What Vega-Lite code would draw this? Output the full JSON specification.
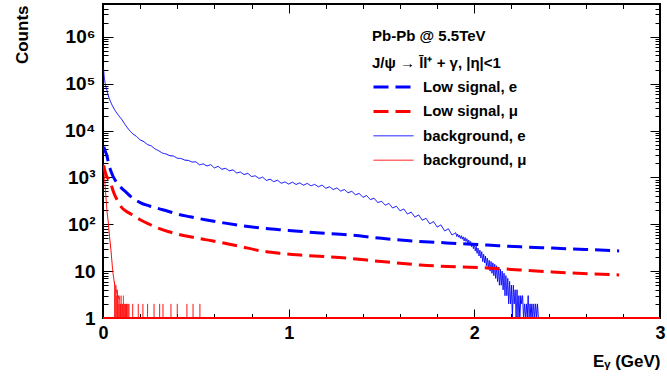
{
  "$schema": "https://vega.github.io/schema/vega-lite/v6.json",
  "width": 557,
  "height": 314,
  "autosize": "none",
  "padding": {"left": 103, "top": 4, "right": 7, "bottom": 59},
  "background": "white",
  "config": {
    "font": "Liberation Sans",
    "view": {"stroke": "black", "strokeWidth": 2},
    "axis": {"domain": false, "grid": false, "tickColor": "black", "tickWidth": 1, "labelColor": "black", "titleColor": "black", "labelFont": "Liberation Sans", "titleFont": "Liberation Sans", "labelFlush": false, "labelOverlap": false},
    "legend": {
      "orient": "none", "legendX": 269, "legendY": 25, "padding": 0,
      "titleFont": "Liberation Sans", "titleFontSize": 15, "titleFontWeight": "bold", "titleColor": "black", "titleLineHeight": 27, "titlePadding": 4, "titleLimit": 400,
      "labelFont": "Liberation Sans", "labelFontSize": 15, "labelFontWeight": "bold", "labelColor": "black", "labelOffset": 8, "labelLimit": 300,
      "symbolType": "stroke", "symbolSize": 1600, "clipHeight": 24, "rowPadding": 0.4
    }
  },
  "datasets": {
    "bge": [
      {"s":"background, e","E":0.002,"v":220000},{"s":"background, e","E":0.006,"v":150000},{"s":"background, e","E":0.01,"v":110000},{"s":"background, e","E":0.015,"v":88000},{"s":"background, e","E":0.02,"v":75000},{"s":"background, e","E":0.027,"v":58000},{"s":"background, e","E":0.034,"v":48000},{"s":"background, e","E":0.04,"v":42000},{"s":"background, e","E":0.047,"v":36000},{"s":"background, e","E":0.054,"v":32000},{"s":"background, e","E":0.062,"v":28000},{"s":"background, e","E":0.07,"v":25000},{"s":"background, e","E":0.08,"v":22000},{"s":"background, e","E":0.09,"v":19500},
      {"s":"background, e","E":0.1,"v":17500},{"s":"background, e","E":0.12,"v":13200},{"s":"background, e","E":0.14,"v":10300},{"s":"background, e","E":0.16,"v":8500},{"s":"background, e","E":0.18,"v":7500},{"s":"background, e","E":0.2,"v":6300},{"s":"background, e","E":0.22,"v":5800},{"s":"background, e","E":0.24,"v":5000},{"s":"background, e","E":0.26,"v":4700},{"s":"background, e","E":0.28,"v":4050},{"s":"background, e","E":0.3,"v":3700},{"s":"background, e","E":0.32,"v":3300},{"s":"background, e","E":0.34,"v":3150},{"s":"background, e","E":0.36,"v":2900},{"s":"background, e","E":0.38,"v":2850},{"s":"background, e","E":0.4,"v":2560},{"s":"background, e","E":0.42,"v":2530},{"s":"background, e","E":0.44,"v":2340},{"s":"background, e","E":0.46,"v":2300},{"s":"background, e","E":0.48,"v":2120},
      {"s":"background, e","E":0.5,"v":2150},{"s":"background, e","E":0.52,"v":1850},{"s":"background, e","E":0.54,"v":1940},{"s":"background, e","E":0.56,"v":1750},{"s":"background, e","E":0.58,"v":1870},{"s":"background, e","E":0.6,"v":1590},{"s":"background, e","E":0.62,"v":1720},{"s":"background, e","E":0.64,"v":1490},{"s":"background, e","E":0.66,"v":1560},{"s":"background, e","E":0.68,"v":1380},{"s":"background, e","E":0.7,"v":1450},{"s":"background, e","E":0.72,"v":1240},{"s":"background, e","E":0.74,"v":1300},{"s":"background, e","E":0.76,"v":1150},{"s":"background, e","E":0.78,"v":1220},{"s":"background, e","E":0.8,"v":1040},{"s":"background, e","E":0.82,"v":1080},{"s":"background, e","E":0.84,"v":950},{"s":"background, e","E":0.86,"v":1010},{"s":"background, e","E":0.88,"v":860},{"s":"background, e","E":0.9,"v":915},{"s":"background, e","E":0.92,"v":810},{"s":"background, e","E":0.94,"v":870},{"s":"background, e","E":0.96,"v":750},{"s":"background, e","E":0.98,"v":800},{"s":"background, e","E":1.0,"v":720},{"s":"background, e","E":1.02,"v":790},{"s":"background, e","E":1.04,"v":705},{"s":"background, e","E":1.06,"v":765},{"s":"background, e","E":1.08,"v":680},{"s":"background, e","E":1.1,"v":745},{"s":"background, e","E":1.12,"v":660},{"s":"background, e","E":1.14,"v":710},{"s":"background, e","E":1.16,"v":630},{"s":"background, e","E":1.18,"v":685},{"s":"background, e","E":1.2,"v":585},{"s":"background, e","E":1.22,"v":630},{"s":"background, e","E":1.24,"v":550},{"s":"background, e","E":1.26,"v":595},{"s":"background, e","E":1.28,"v":510},{"s":"background, e","E":1.3,"v":550},{"s":"background, e","E":1.32,"v":470},{"s":"background, e","E":1.34,"v":505},{"s":"background, e","E":1.36,"v":425},{"s":"background, e","E":1.38,"v":455},{"s":"background, e","E":1.4,"v":375},{"s":"background, e","E":1.42,"v":410},{"s":"background, e","E":1.44,"v":335},{"s":"background, e","E":1.46,"v":360},{"s":"background, e","E":1.48,"v":290},{"s":"background, e","E":1.5,"v":310},{"s":"background, e","E":1.52,"v":255},{"s":"background, e","E":1.54,"v":278},{"s":"background, e","E":1.56,"v":222},{"s":"background, e","E":1.58,"v":243},{"s":"background, e","E":1.6,"v":193},{"s":"background, e","E":1.62,"v":212},{"s":"background, e","E":1.64,"v":165},{"s":"background, e","E":1.66,"v":182},{"s":"background, e","E":1.68,"v":142},{"s":"background, e","E":1.7,"v":158},{"s":"background, e","E":1.72,"v":122},{"s":"background, e","E":1.74,"v":134},{"s":"background, e","E":1.76,"v":102},{"s":"background, e","E":1.78,"v":114},{"s":"background, e","E":1.8,"v":87},{"s":"background, e","E":1.82,"v":97},{"s":"background, e","E":1.84,"v":72},{"s":"background, e","E":1.86,"v":80},{"s":"background, e","E":1.88,"v":59},{"s":"background, e","E":1.9,"v":66},
      {"s":"background, e","E":1.905,"v":55},{"s":"background, e","E":1.91,"v":62},{"s":"background, e","E":1.915,"v":53},{"s":"background, e","E":1.92,"v":58},{"s":"background, e","E":1.925,"v":50},{"s":"background, e","E":1.93,"v":57},{"s":"background, e","E":1.935,"v":48},{"s":"background, e","E":1.94,"v":54},{"s":"background, e","E":1.945,"v":44},{"s":"background, e","E":1.95,"v":52},{"s":"background, e","E":1.955,"v":43},{"s":"background, e","E":1.96,"v":49},{"s":"background, e","E":1.965,"v":39},{"s":"background, e","E":1.97,"v":46},{"s":"background, e","E":1.975,"v":36},{"s":"background, e","E":1.98,"v":43},{"s":"background, e","E":1.985,"v":33},{"s":"background, e","E":1.99,"v":40},{"s":"background, e","E":1.995,"v":30},{"s":"background, e","E":2.0,"v":38},{"s":"background, e","E":2.005,"v":27},{"s":"background, e","E":2.01,"v":34},{"s":"background, e","E":2.015,"v":24},{"s":"background, e","E":2.02,"v":31},{"s":"background, e","E":2.025,"v":21},{"s":"background, e","E":2.03,"v":28},{"s":"background, e","E":2.035,"v":19},{"s":"background, e","E":2.04,"v":26},{"s":"background, e","E":2.045,"v":16},{"s":"background, e","E":2.05,"v":23},{"s":"background, e","E":2.055,"v":15},{"s":"background, e","E":2.06,"v":21},{"s":"background, e","E":2.065,"v":13},{"s":"background, e","E":2.07,"v":19},{"s":"background, e","E":2.075,"v":11},{"s":"background, e","E":2.08,"v":17},{"s":"background, e","E":2.085,"v":10},{"s":"background, e","E":2.09,"v":16},{"s":"background, e","E":2.095,"v":9},{"s":"background, e","E":2.1,"v":15},{"s":"background, e","E":2.105,"v":8},{"s":"background, e","E":2.11,"v":14},{"s":"background, e","E":2.115,"v":7},{"s":"background, e","E":2.12,"v":13},{"s":"background, e","E":2.125,"v":6},{"s":"background, e","E":2.13,"v":12},{"s":"background, e","E":2.135,"v":5},{"s":"background, e","E":2.14,"v":11},{"s":"background, e","E":2.145,"v":5},{"s":"background, e","E":2.15,"v":10},{"s":"background, e","E":2.155,"v":4},{"s":"background, e","E":2.16,"v":9},{"s":"background, e","E":2.165,"v":3},{"s":"background, e","E":2.17,"v":8},{"s":"background, e","E":2.175,"v":3},{"s":"background, e","E":2.18,"v":7},{"s":"background, e","E":2.185,"v":2},{"s":"background, e","E":2.19,"v":6},{"s":"background, e","E":2.195,"v":2},{"s":"background, e","E":2.2,"v":5},{"s":"background, e","E":2.205,"v":1},{"s":"background, e","E":2.21,"v":5},{"s":"background, e","E":2.215,"v":2},{"s":"background, e","E":2.22,"v":4},{"s":"background, e","E":2.225,"v":1},{"s":"background, e","E":2.23,"v":4},{"s":"background, e","E":2.235,"v":1},{"s":"background, e","E":2.24,"v":3},{"s":"background, e","E":2.245,"v":1},{"s":"background, e","E":2.25,"v":3},{"s":"background, e","E":2.255,"v":2},{"s":"background, e","E":2.26,"v":3},{"s":"background, e","E":2.265,"v":1},{"s":"background, e","E":2.27,"v":2},{"s":"background, e","E":2.275,"v":1},{"s":"background, e","E":2.28,"v":2},{"s":"background, e","E":2.285,"v":1},{"s":"background, e","E":2.29,"v":3},{"s":"background, e","E":2.295,"v":1},{"s":"background, e","E":2.3,"v":2},{"s":"background, e","E":2.305,"v":1},{"s":"background, e","E":2.31,"v":2},{"s":"background, e","E":2.315,"v":1},{"s":"background, e","E":2.32,"v":2},{"s":"background, e","E":2.325,"v":1},{"s":"background, e","E":2.33,"v":2},{"s":"background, e","E":2.335,"v":1},{"s":"background, e","E":2.34,"v":2},{"s":"background, e","E":2.345,"v":1},{"s":"background, e","E":2.35,"v":1}
    ],
    "lowe": [
      {"s":"Low signal, e","E":0.004,"v":4500},{"s":"Low signal, e","E":0.01,"v":3800},{"s":"Low signal, e","E":0.02,"v":3000},{"s":"Low signal, e","E":0.03,"v":2000},{"s":"Low signal, e","E":0.04,"v":1450},{"s":"Low signal, e","E":0.05,"v":1150},{"s":"Low signal, e","E":0.06,"v":950},{"s":"Low signal, e","E":0.08,"v":720},{"s":"Low signal, e","E":0.1,"v":590},{"s":"Low signal, e","E":0.125,"v":480},{"s":"Low signal, e","E":0.15,"v":390},{"s":"Low signal, e","E":0.2,"v":290},{"s":"Low signal, e","E":0.25,"v":245},{"s":"Low signal, e","E":0.3,"v":215},{"s":"Low signal, e","E":0.35,"v":190},{"s":"Low signal, e","E":0.4,"v":165},{"s":"Low signal, e","E":0.47,"v":144},{"s":"Low signal, e","E":0.55,"v":125},{"s":"Low signal, e","E":0.65,"v":107},{"s":"Low signal, e","E":0.75,"v":93},{"s":"Low signal, e","E":0.85,"v":83},{"s":"Low signal, e","E":1.0,"v":74},{"s":"Low signal, e","E":1.15,"v":66},{"s":"Low signal, e","E":1.33,"v":59},{"s":"Low signal, e","E":1.5,"v":50},{"s":"Low signal, e","E":1.67,"v":44},{"s":"Low signal, e","E":1.85,"v":40},{"s":"Low signal, e","E":2.07,"v":36},{"s":"Low signal, e","E":2.25,"v":33},{"s":"Low signal, e","E":2.42,"v":31},{"s":"Low signal, e","E":2.6,"v":29},{"s":"Low signal, e","E":2.78,"v":27}
    ],
    "lowm": [
      {"s":"Low signal, μ","E":0.004,"v":1800},{"s":"Low signal, μ","E":0.01,"v":1400},{"s":"Low signal, μ","E":0.02,"v":1050},{"s":"Low signal, μ","E":0.03,"v":900},{"s":"Low signal, μ","E":0.043,"v":700},{"s":"Low signal, μ","E":0.06,"v":450},{"s":"Low signal, μ","E":0.08,"v":310},{"s":"Low signal, μ","E":0.1,"v":230},{"s":"Low signal, μ","E":0.125,"v":190},{"s":"Low signal, μ","E":0.15,"v":165},{"s":"Low signal, μ","E":0.2,"v":125},{"s":"Low signal, μ","E":0.25,"v":100},{"s":"Low signal, μ","E":0.29,"v":85},{"s":"Low signal, μ","E":0.35,"v":70},{"s":"Low signal, μ","E":0.4,"v":62},{"s":"Low signal, μ","E":0.47,"v":54},{"s":"Low signal, μ","E":0.55,"v":47},{"s":"Low signal, μ","E":0.65,"v":40},{"s":"Low signal, μ","E":0.75,"v":33},{"s":"Low signal, μ","E":0.83,"v":28},{"s":"Low signal, μ","E":0.95,"v":24},{"s":"Low signal, μ","E":1.1,"v":21.5},{"s":"Low signal, μ","E":1.31,"v":19},{"s":"Low signal, μ","E":1.5,"v":16},{"s":"Low signal, μ","E":1.71,"v":13.5},{"s":"Low signal, μ","E":2.07,"v":11.7},{"s":"Low signal, μ","E":2.42,"v":9.6},{"s":"Low signal, μ","E":2.78,"v":8.3}
    ],
    "bgm": [
      {"s":"background, μ","E":0.001,"v":1900},{"s":"background, μ","E":0.008,"v":1000},{"s":"background, μ","E":0.015,"v":420},{"s":"background, μ","E":0.022,"v":180},{"s":"background, μ","E":0.027,"v":124},{"s":"background, μ","E":0.035,"v":55},{"s":"background, μ","E":0.043,"v":28},{"s":"background, μ","E":0.05,"v":13},{"s":"background, μ","E":0.054,"v":9},{"s":"background, μ","E":0.06,"v":6},{"s":"background, μ","E":0.07,"v":4},{"s":"background, μ","E":0.08,"v":3},{"s":"background, μ","E":0.09,"v":2.5}
    ],
    "spikes": [
      {"E":0.062,"c":6},{"E":0.066,"c":4},{"E":0.07,"c":5},{"E":0.074,"c":3},{"E":0.078,"c":4},{"E":0.082,"c":3},{"E":0.086,"c":2},{"E":0.09,"c":3},{"E":0.094,"c":2},{"E":0.098,"c":3},{"E":0.102,"c":2},{"E":0.106,"c":2},{"E":0.11,"c":3},{"E":0.114,"c":2},{"E":0.118,"c":2},{"E":0.122,"c":2},{"E":0.126,"c":2},{"E":0.13,"c":2},{"E":0.135,"c":2},{"E":0.14,"c":2},
      {"E":0.16,"c":2},{"E":0.19,"c":2},{"E":0.215,"c":2},{"E":0.24,"c":2},{"E":0.275,"c":2},{"E":0.305,"c":2},{"E":0.323,"c":2},{"E":0.366,"c":2},{"E":0.4,"c":2},{"E":0.452,"c":2},{"E":0.485,"c":2},{"E":0.522,"c":2}
    ]
  },
  "encoding": {
    "color": {"field": "s", "type": "nominal", "scale": {"domain": ["Low signal, e", "Low signal, μ", "background, e", "background, μ"], "range": ["#0000ff", "#ff0000", "#0000ff", "#ff0000"]}, "legend": {"title": ["\u00a0\u00a0\u00a0\u00a0\u00a0\u00a0\u00a0\u00a0\u00a0\u00a0\u00a0\u00a0Pb-Pb @ 5.5TeV", "\u00a0\u00a0\u00a0\u00a0\u00a0\u00a0\u00a0\u00a0\u00a0\u00a0\u00a0\u00a0J/ψ  → l\u0304l\u207a + γ, |η|<1"]}},
    "strokeDash": {"field": "s", "type": "nominal", "scale": {"domain": ["Low signal, e", "Low signal, μ", "background, e", "background, μ"], "range": [[15, 7], [15, 7], [1, 0], [1, 0]]}, "legend": {"title": ["\u00a0\u00a0\u00a0\u00a0\u00a0\u00a0\u00a0\u00a0\u00a0\u00a0\u00a0\u00a0Pb-Pb @ 5.5TeV", "\u00a0\u00a0\u00a0\u00a0\u00a0\u00a0\u00a0\u00a0\u00a0\u00a0\u00a0\u00a0J/ψ  → l\u0304l\u207a + γ, |η|<1"]}},
    "strokeWidth": {"field": "s", "type": "nominal", "scale": {"type": "ordinal", "domain": ["Low signal, e", "Low signal, μ", "background, e", "background, μ"], "range": [3, 3, 1, 1]}, "legend": {"title": ["\u00a0\u00a0\u00a0\u00a0\u00a0\u00a0\u00a0\u00a0\u00a0\u00a0\u00a0\u00a0Pb-Pb @ 5.5TeV", "\u00a0\u00a0\u00a0\u00a0\u00a0\u00a0\u00a0\u00a0\u00a0\u00a0\u00a0\u00a0J/ψ  → l\u0304l\u207a + γ, |η|<1"]}}
  },
  "layer": [
    {
      "data": {"name": "bge"},
      "mark": {"type": "line", "clip": true},
      "encoding": {
        "x": {"field": "E", "type": "quantitative", "scale": {"domain": [0, 3], "nice": false, "zero": false},
          "axis": {"orient": "bottom", "values": [0, 1, 2, 3], "tickSize": -9, "labelPadding": 15, "labelFontSize": 18, "labelFontWeight": "bold",
            "title": "Eᵧ (GeV)", "titleFontSize": 17, "titleFontWeight": "bold", "titleX": 557, "titleY": 48, "titleAlign": "right", "titleBaseline": "alphabetic", "titleAnchor": null}},
        "y": {"field": "v", "type": "quantitative", "scale": {"type": "log", "domain": [1, 5000000], "nice": false},
          "axis": {"orient": "left", "values": [1, 10, 100, 1000, 10000, 100000, 1000000], "tickSize": -10, "labelPadding": 18, "labelFontSize": 19, "labelFontWeight": "bold",
            "labelExpr": "datum.value == 1 ? '1' : datum.value == 10 ? '10' : datum.value == 100 ? '10²' : datum.value == 1000 ? '10³' : datum.value == 10000 ? '10⁴' : datum.value == 100000 ? '10⁵' : '10⁶'",
            "title": "Counts", "titleFontSize": 17, "titleFontWeight": "bold", "titleX": -76, "titleY": 1, "titleAngle": 270, "titleAlign": "right", "titleBaseline": "alphabetic", "titleAnchor": null}}
      }
    },
    {
      "data": {"name": "lowe"},
      "mark": {"type": "line", "clip": true, "interpolate": "monotone"},
      "encoding": {
        "x": {"field": "E", "type": "quantitative", "scale": {"domain": [0, 3], "nice": false, "zero": false},
          "axis": {"orient": "bottom", "values": [0.2, 0.4, 0.6, 0.8, 1.2, 1.4, 1.6, 1.8, 2.2, 2.4, 2.6, 2.8], "tickSize": -4.5, "labels": false, "title": null}},
        "y": {"field": "v", "type": "quantitative", "scale": {"type": "log", "domain": [1, 5000000], "nice": false},
          "axis": {"orient": "left", "values": [2,3,4,5,6,7,8,9,20,30,40,50,60,70,80,90,200,300,400,500,600,700,800,900,2000,3000,4000,5000,6000,7000,8000,9000,20000,30000,40000,50000,60000,70000,80000,90000,200000,300000,400000,500000,600000,700000,800000,900000,2000000,3000000,4000000,5000000], "tickSize": -5, "labels": false, "title": null}}
      }
    },
    {
      "data": {"name": "lowm"},
      "mark": {"type": "line", "clip": true, "interpolate": "monotone"},
      "encoding": {
        "x": {"field": "E", "type": "quantitative", "scale": {"domain": [0, 3], "nice": false, "zero": false},
          "axis": {"orient": "top", "values": [0, 1, 2, 3], "tickSize": -9, "labels": false, "title": null}},
        "y": {"field": "v", "type": "quantitative", "scale": {"type": "log", "domain": [1, 5000000], "nice": false},
          "axis": {"orient": "right", "values": [1, 10, 100, 1000, 10000, 100000, 1000000], "tickSize": -10, "labels": false, "title": null}}
      }
    },
    {
      "data": {"name": "bgm"},
      "mark": {"type": "line", "clip": true},
      "encoding": {
        "x": {"field": "E", "type": "quantitative", "scale": {"domain": [0, 3], "nice": false, "zero": false},
          "axis": {"orient": "top", "values": [0.2, 0.4, 0.6, 0.8, 1.2, 1.4, 1.6, 1.8, 2.2, 2.4, 2.6, 2.8], "tickSize": -4.5, "labels": false, "title": null}},
        "y": {"field": "v", "type": "quantitative", "scale": {"type": "log", "domain": [1, 5000000], "nice": false},
          "axis": {"orient": "right", "values": [2,3,4,5,6,7,8,9,20,30,40,50,60,70,80,90,200,300,400,500,600,700,800,900,2000,3000,4000,5000,6000,7000,8000,9000,20000,30000,40000,50000,60000,70000,80000,90000,200000,300000,400000,500000,600000,700000,800000,900000,2000000,3000000,4000000,5000000], "tickSize": -5, "labels": false, "title": null}}
      }
    },
    {
      "data": {"name": "spikes"},
      "mark": {"type": "rule"},
      "encoding": {
        "x": {"field": "E", "type": "quantitative", "scale": {"domain": [0, 3], "nice": false, "zero": false}, "axis": null},
        "y": {"field": "c", "type": "quantitative", "scale": {"type": "log", "domain": [1, 5000000], "nice": false}, "axis": null},
        "y2": {"datum": 1},
        "color": {"value": "#ff0000"},
        "strokeDash": {"value": [1, 0]},
        "strokeWidth": {"value": 1}
      }
    },
    {
      "data": {"values": [{}]},
      "mark": {"type": "rule"},
      "encoding": {
        "y": {"datum": 1, "type": "quantitative", "scale": {"type": "log", "domain": [1, 5000000], "nice": false}, "axis": null},
        "color": {"value": "#ff0000"},
        "strokeDash": {"value": [1, 0]},
        "strokeWidth": {"value": 2}
      }
    }
  ],
  "resolve": {"axis": {"x": "independent", "y": "independent"}}
}
